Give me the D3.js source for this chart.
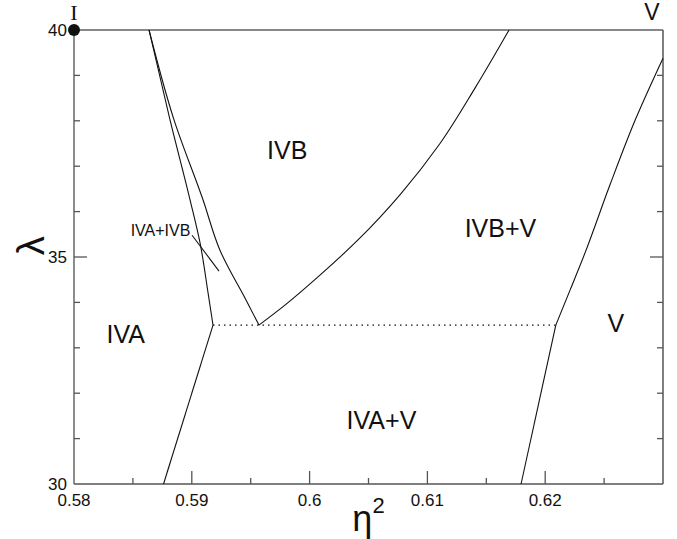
<!DOCTYPE html>
<html lang="en">
<head>
<meta charset="UTF-8">
<title>phase diagram</title>
<script src="https://d3js.org/d3.v7.min.js"></script>
<style>
  body { margin: 0; background: #fff; }
  text { font-family: "Liberation Sans", Arial, sans-serif; fill: #111; }
</style>
</head>
<body>
<script>
// axis ticks
var xMajor = [0.59, 0.60, 0.61, 0.62];
var xMinor = [0.585, 0.595, 0.605, 0.615, 0.625];
var xLabelVals = [0.58, 0.59, 0.60, 0.61, 0.62];
var xLabels = ["0.58", "0.59", "0.6", "0.61", "0.62"];
var yMajor = [35];
var yMinor = [31, 32, 33, 34, 36, 37, 38, 39];
var yLabelVals = [30, 35, 40];
var yLabels = ["30", "35", "40"];

// phase boundaries, [eta^2, lambda]
var ivaUpper = [[0.58637, 40], [0.58815, 38.02], [0.58985, 36.26], [0.5907, 35.31], [0.59138, 34.21], [0.5918, 33.5]];
var ivaLower = [[0.5918, 33.5], [0.5876, 30]];
var ivbLeft = [[0.58637, 40], [0.58849, 38.02], [0.59095, 36.26], [0.59239, 35.15], [0.59469, 34.01], [0.5957, 33.5]];
var ivbRight = [[0.5957, 33.5], [0.59791, 33.94], [0.60088, 34.6], [0.60428, 35.42], [0.60767, 36.37], [0.61107, 37.5], [0.61404, 38.72], [0.61693, 40]];
var vLower = [[0.6209, 33.5], [0.61795, 30]];
var vUpper = [[0.6209, 33.5], [0.62211, 34.27], [0.62338, 35.09], [0.6255, 36.59], [0.62771, 38.06], [0.63, 39.38]];
var triple = [[0.5918, 33.5], [0.6209, 33.5]];
var pointer = [[0.59002, 35.48], [0.59231, 34.69]];

// region labels
var regionNames = ["IVB", "IVB+V", "IVA", "IVA+V", "V"];
var regionAt = [[0.5981, 37.36], [0.6162, 35.64], [0.5844, 33.3], [0.6061, 31.4], [0.626, 33.55]];

var width = 677, height = 539;
var margin = {left: 74, top: 30, right: 14, bottom: 55};

var svg = d3.select("body").append("svg")
    .attr("width", width)
    .attr("height", height);

var x = d3.scaleLinear().domain([0.58, 0.63]).range([margin.left, width - margin.right]);
var y = d3.scaleLinear().domain([30, 40]).range([height - margin.bottom, margin.top]);

var line = d3.line().x(function (d) { return x(d[0]); }).y(function (d) { return y(d[1]); });
var curve = d3.line().curve(d3.curveMonotoneY).x(function (d) { return x(d[0]); }).y(function (d) { return y(d[1]); });

// frame
var x0 = x(0.58), x1 = x(0.63), y0 = y(30), y1 = y(40);
svg.append("line").attr("x1", x0).attr("x2", x1).attr("y1", y1).attr("y2", y1)
    .attr("stroke", "#888").attr("stroke-width", 2);
svg.append("line").attr("x1", x0).attr("x2", x0).attr("y1", y1).attr("y2", y0)
    .attr("stroke", "#666").attr("stroke-width", 1.5);
svg.append("line").attr("x1", x1).attr("x2", x1).attr("y1", y1).attr("y2", y0)
    .attr("stroke", "#555").attr("stroke-width", 1.5);
svg.append("line").attr("x1", x0).attr("x2", x1).attr("y1", y0).attr("y2", y0)
    .attr("stroke", "#555").attr("stroke-width", 1.5);

// ticks
function tick(x1_, y1_, x2_, y2_) {
    svg.append("line").attr("x1", x1_).attr("y1", y1_).attr("x2", x2_).attr("y2", y2_)
        .attr("stroke", "#555").attr("stroke-width", 1.3);
}
xMajor.forEach(function (v) { tick(x(v), y0, x(v), y0 - 13); });
xMinor.forEach(function (v) { tick(x(v), y0, x(v), y0 - 6); });
yMajor.forEach(function (v) { tick(x0, y(v), x0 + 13, y(v)); tick(x1, y(v), x1 - 13, y(v)); });
yMinor.forEach(function (v) { tick(x0, y(v), x0 + 6, y(v)); tick(x1, y(v), x1 - 6, y(v)); });

svg.selectAll(".xl").data(xLabelVals).enter().append("text")
    .attr("x", function (d) { return x(d); })
    .attr("y", y0 + 22)
    .attr("text-anchor", "middle")
    .attr("font-size", 17)
    .text(function (d, i) { return xLabels[i]; });

svg.selectAll(".yl").data(yLabelVals).enter().append("text")
    .attr("x", x0 - 7)
    .attr("y", function (d) { return y(d) + 6; })
    .attr("text-anchor", "end")
    .attr("font-size", 17)
    .text(function (d, i) { return yLabels[i]; });

// axis titles
var xt = svg.append("text")
    .attr("x", (x0 + x1) / 2)
    .attr("y", height - 8)
    .attr("text-anchor", "middle")
    .attr("font-size", 36);
xt.append("tspan").text("η");
xt.append("tspan").attr("font-size", 22).attr("dy", -18).text("2");

svg.append("text")
    .attr("transform", "translate(44," + y(35.25) + ") rotate(-90)")
    .attr("text-anchor", "middle")
    .attr("font-size", 38)
    .text("λ");

// boundaries
var solid = [ivaUpper, ivaLower, ivbLeft, ivbRight, vLower, vUpper, pointer];
svg.selectAll(".b").data(solid).enter().append("path")
    .attr("d", function (d) { return d.length > 2 ? curve(d) : line(d); })
    .attr("fill", "none")
    .attr("stroke", "#111")
    .attr("stroke-width", 1.1);

svg.append("path")
    .attr("d", line(triple))
    .attr("fill", "none")
    .attr("stroke", "#111")
    .attr("stroke-width", 1.2)
    .attr("stroke-dasharray", "1.5,4");

// region labels
svg.selectAll(".r").data(regionNames).enter().append("text")
    .attr("x", function (d, i) { return x(regionAt[i][0]); })
    .attr("y", function (d, i) { return y(regionAt[i][1]) + 9; })
    .attr("text-anchor", "middle")
    .attr("font-size", 25)
    .text(function (d) { return d; });

svg.append("text")
    .attr("x", x(0.58988))
    .attr("y", y(35.6) + 6)
    .attr("text-anchor", "end")
    .attr("font-size", 16)
    .text("IVA+IVB");

// corner markers
svg.append("circle").attr("cx", x0).attr("cy", y1).attr("r", 6).attr("fill", "#111");
svg.append("text")
    .attr("x", x0).attr("y", y1 - 10)
    .attr("text-anchor", "middle")
    .style("font-family", "'Liberation Serif', 'Times New Roman', serif")
    .attr("font-size", 22)
    .text("I");
svg.append("text")
    .attr("x", x(0.62907)).attr("y", y1 - 10)
    .attr("text-anchor", "middle")
    .attr("font-size", 23)
    .text("V");
</script>
</body>
</html>
